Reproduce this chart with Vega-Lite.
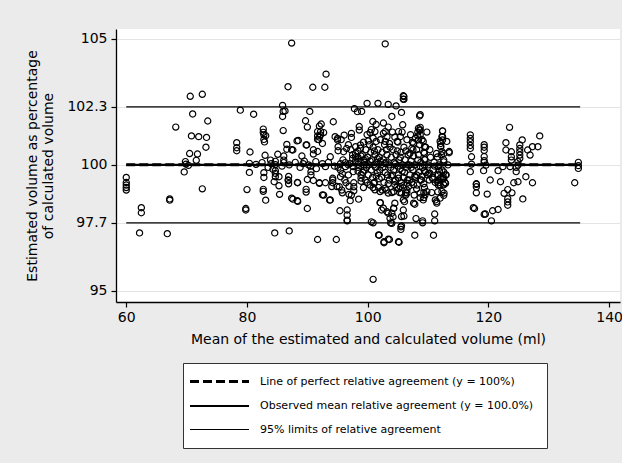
{
  "$schema": "https://vega.github.io/schema/vega-lite/v6.json",
  "width": 504,
  "height": 273,
  "autosize": {"type": "none"},
  "padding": {"left": 116, "top": 29, "right": 2, "bottom": 161},
  "background": "#ebebeb",
  "config": {
    "view": {"fill": "white", "stroke": null},
    "font": "DejaVu Sans",
    "axis": {"labelFont": "DejaVu Sans", "titleFont": "DejaVu Sans", "labelColor": "#000", "titleColor": "#000", "labelFontSize": 14, "titleFontSize": 14, "titleFontWeight": "normal", "tickColor": "#000", "domainColor": "#000", "domainWidth": 1.3, "tickWidth": 1.2, "tickSize": 5}
  },
  "datasets": {
    "lines": [
      {"series": "Line of perfect relative agreement (y = 100%)", "x1": 60, "x2": 135.2, "y": 100},
      {"series": "Observed mean relative agreement (y = 100.0%)", "x1": 60, "x2": 135.2, "y": 100.0},
      {"series": "95% limits of relative agreement", "x1": 60, "x2": 135.2, "y": 102.3},
      {"series": "95% limits of relative agreement", "x1": 60, "x2": 135.2, "y": 97.7}
    ],
    "pts": [
      {"mean":60,"pct":99.5},{"mean":60,"pct":99.3},{"mean":60,"pct":99.2},{"mean":60,"pct":99.1},{"mean":60,"pct":99.0},
      {"mean":62.2,"pct":97.3},{"mean":62.5,"pct":98.3},{"mean":62.5,"pct":98.1},
      {"mean":66.8,"pct":97.27},{"mean":67.2,"pct":98.65},{"mean":67.2,"pct":98.6},{"mean":68.2,"pct":101.5},
      {"mean":69.6,"pct":99.72},{"mean":69.8,"pct":100.13},{"mean":69.9,"pct":100.03},{"mean":70.3,"pct":99.98},{"mean":70.5,"pct":100.45},{"mean":70.6,"pct":102.72},{"mean":71.0,"pct":102.02},{"mean":70.8,"pct":101.15},{"mean":72.0,"pct":101.12},{"mean":71.8,"pct":100.43},{"mean":71.6,"pct":100.18},{"mean":72.6,"pct":102.8},{"mean":72.6,"pct":99.05},{"mean":73.3,"pct":101.09},{"mean":73.2,"pct":100.7},{"mean":73.5,"pct":101.74},
      {"mean":78.3,"pct":100.88},{"mean":78.3,"pct":100.68},{"mean":78.3,"pct":100.56},{"mean":78.9,"pct":102.17},{"mean":81.1,"pct":102.01},{"mean":79.8,"pct":98.27},{"mean":79.8,"pct":98.21},{"mean":80.0,"pct":99.02},{"mean":80.4,"pct":100.06},{"mean":80.4,"pct":99.7},{"mean":80.5,"pct":100.51},
      {"mean":82.7,"pct":101.42},{"mean":82.7,"pct":101.29},{"mean":82.8,"pct":101.19},{"mean":82.8,"pct":101.01},{"mean":82.9,"pct":100.91},{"mean":83.1,"pct":101.16},{"mean":82.5,"pct":100.09},{"mean":83.0,"pct":100.38},{"mean":82.8,"pct":99.69},{"mean":82.8,"pct":99.5},{"mean":82.7,"pct":99.03},{"mean":82.7,"pct":98.95},{"mean":83.1,"pct":98.6},{"mean":83.9,"pct":100.19},{"mean":84.3,"pct":99.82},{"mean":84.5,"pct":99.33},{"mean":84.6,"pct":97.3},{"mean":84.7,"pct":100.14},{"mean":84.7,"pct":100.01},{"mean":84.7,"pct":99.77},{"mean":84.7,"pct":99.66},{"mean":84.7,"pct":99.53},{"mean":85.1,"pct":100.42},{"mean":85.3,"pct":99.53},{"mean":85.3,"pct":99.17},{"mean":85.4,"pct":98.83},{"mean":85.9,"pct":102.36},{"mean":86.0,"pct":102.12},{"mean":85.9,"pct":101.92},{"mean":86.0,"pct":101.36},{"mean":86.1,"pct":100.35},{"mean":86.1,"pct":100.19},{"mean":86.1,"pct":100.09},{"mean":86.3,"pct":102.14},{"mean":86.6,"pct":100.81},{"mean":86.6,"pct":100.62},{"mean":86.8,"pct":99.4},{"mean":87.0,"pct":97.38},{"mean":87.4,"pct":104.83},{"mean":87.6,"pct":98.64},{"mean":87.6,"pct":100.59},{"mean":88.4,"pct":99.29},{"mean":88.4,"pct":98.55},{"mean":88.3,"pct":100.95},{"mean":86.8,"pct":103.1},{"mean":86.9,"pct":99.54},{"mean":86.9,"pct":99.38},{"mean":86.9,"pct":99.25},{"mean":88.35,"pct":99.3},{"mean":87.4,"pct":98.68},{"mean":88.35,"pct":98.58},{"mean":88.5,"pct":100.97},{"mean":87.4,"pct":100.6},
      {"mean":89.1,"pct":100.35},{"mean":89.7,"pct":101.75},{"mean":90.0,"pct":101.5},{"mean":89.8,"pct":100.79},{"mean":90.0,"pct":98.27},{"mean":89.8,"pct":99.03},{"mean":89.8,"pct":98.92},{"mean":90.0,"pct":99.42},{"mean":90.4,"pct":102.12},{"mean":90.9,"pct":103.08},{"mean":91.0,"pct":100.43},{"mean":91.4,"pct":100.13},{"mean":91.7,"pct":97.04},{"mean":91.7,"pct":101.15},{"mean":91.7,"pct":101.32},{"mean":91.7,"pct":101.01},{"mean":92.0,"pct":101.54},{"mean":92.2,"pct":101.32},{"mean":92.2,"pct":101.19},{"mean":92.5,"pct":100.85},{"mean":92.7,"pct":101.28},{"mean":92.0,"pct":99.29},{"mean":92.7,"pct":98.8},{"mean":92.9,"pct":103.08},{"mean":93.1,"pct":103.6},{"mean":93.0,"pct":99.93},{"mean":93.0,"pct":99.29},{"mean":93.7,"pct":98.6},{"mean":93.8,"pct":100.32},{"mean":94.2,"pct":99.4},{"mean":94.2,"pct":99.29},{"mean":94.3,"pct":101.71},{"mean":94.6,"pct":101.12},{"mean":94.8,"pct":97.04},{"mean":95.0,"pct":101.05},{"mean":95.0,"pct":100.99},{"mean":95.1,"pct":100.72},{"mean":95.1,"pct":100.56},{"mean":90.6,"pct":99.73},{"mean":90.6,"pct":99.6},{"mean":91.0,"pct":99.38},{"mean":92.0,"pct":99.27},{"mean":92.5,"pct":98.81},{"mean":93.8,"pct":98.61},{"mean":94.05,"pct":99.14},{"mean":94.9,"pct":99.14},{"mean":94.2,"pct":99.47},{"mean":91.0,"pct":100.6},{"mean":91.7,"pct":100.53},{"mean":89.9,"pct":100.79},{"mean":92.3,"pct":101.62},{"mean":92.0,"pct":101.1},{"mean":91.9,"pct":101.0},{"mean":90.2,"pct":100.0},{"mean":89.3,"pct":100.05},{"mean":91.5,"pct":99.85},
      {"mean":95.3,"pct":99.13},{"mean":95.4,"pct":98.18},{"mean":95.5,"pct":99.79},{"mean":95.5,"pct":99.53},{"mean":95.8,"pct":98.89},{"mean":96.0,"pct":100.52},{"mean":96.3,"pct":100.09},{"mean":96.3,"pct":99.93},{"mean":96.4,"pct":99.29},{"mean":96.6,"pct":98.21},{"mean":96.6,"pct":98.01},{"mean":96.6,"pct":97.81},{"mean":96.6,"pct":97.78},{"mean":96.8,"pct":100.8},{"mean":96.9,"pct":98.83},{"mean":97.1,"pct":98.58},{"mean":97.3,"pct":101.25},{"mean":97.3,"pct":101.09},{"mean":97.5,"pct":100.4},{"mean":97.5,"pct":100.26},{"mean":97.6,"pct":99.93},{"mean":97.6,"pct":99.73},{"mean":97.7,"pct":99.29},{"mean":97.7,"pct":99.13},{"mean":97.7,"pct":98.97},{"mean":97.8,"pct":102.23},{"mean":98.3,"pct":102.11},{"mean":98.5,"pct":98.64},{"mean":98.6,"pct":101.52},{"mean":98.6,"pct":101.38},{"mean":98.8,"pct":100.79},{"mean":98.8,"pct":100.66},{"mean":98.9,"pct":100.35},{"mean":98.4,"pct":100.55},{"mean":98.4,"pct":100.3},{"mean":98.4,"pct":100.15},{"mean":98.4,"pct":100.02},{"mean":98.4,"pct":99.9},{"mean":98.4,"pct":99.75},{"mean":98.0,"pct":100.72},{"mean":98.0,"pct":100.45},{"mean":98.0,"pct":100.32},{"mean":98.0,"pct":100.16},{"mean":98.9,"pct":99.62},{"mean":98.9,"pct":99.48},{"mean":98.9,"pct":99.35},{"mean":99.4,"pct":100.19},{"mean":99.4,"pct":99.99},{"mean":99.4,"pct":99.79},{"mean":95.7,"pct":99.0},{"mean":96.2,"pct":99.4},{"mean":96.8,"pct":99.6},{"mean":97.0,"pct":100.05},{"mean":95.9,"pct":100.2},{"mean":96.5,"pct":100.65},{"mean":97.2,"pct":100.6},{"mean":95.6,"pct":101.0},{"mean":96.1,"pct":101.18},{"mean":95.1,"pct":99.9},{"mean":95.8,"pct":99.65},{"mean":96.9,"pct":99.15},{"mean":97.3,"pct":98.8},
      {"mean":99.9,"pct":102.44},{"mean":101.7,"pct":102.44},{"mean":103.4,"pct":102.4},{"mean":104.7,"pct":102.34},{"mean":105.9,"pct":102.74},{"mean":105.9,"pct":102.61},{"mean":99.0,"pct":102.12},{"mean":105.6,"pct":102.08},{"mean":108.7,"pct":101.99},{"mean":104.0,"pct":101.92},{"mean":100.85,"pct":101.72},{"mean":102.6,"pct":101.66},{"mean":105.8,"pct":101.59},{"mean":100.4,"pct":101.28},{"mean":101.2,"pct":101.32},{"mean":100.9,"pct":101.06},{"mean":101.4,"pct":100.93},{"mean":102.9,"pct":101.32},{"mean":103.2,"pct":101.12},{"mean":102.9,"pct":100.93},{"mean":105.1,"pct":101.32},{"mean":105.4,"pct":101.12},{"mean":104.9,"pct":100.93},{"mean":108.6,"pct":101.39},{"mean":108.7,"pct":101.19},{"mean":108.4,"pct":100.99},{"mean":107.6,"pct":100.86},{"mean":107.3,"pct":100.66},{"mean":107.0,"pct":100.46},{"mean":109.2,"pct":100.93},{"mean":112.4,"pct":101.35},{"mean":112.3,"pct":101.12},{"mean":112.0,"pct":100.93},{"mean":112.1,"pct":100.73},{"mean":112.3,"pct":100.53},{"mean":113.1,"pct":100.93},{"mean":113.5,"pct":100.53},{"mean":111.55,"pct":100.31},
      {"mean":100.9,"pct":95.46},{"mean":100.6,"pct":97.74},{"mean":100.9,"pct":97.7},{"mean":101.9,"pct":97.21},{"mean":102.1,"pct":98.5},{"mean":102.3,"pct":98.21},{"mean":102.7,"pct":96.91},{"mean":102.9,"pct":104.8},{"mean":103.6,"pct":97.04},{"mean":103.4,"pct":98.08},{"mean":103.8,"pct":97.7},{"mean":104.2,"pct":97.94},{"mean":104.3,"pct":98.27},{"mean":105.2,"pct":96.93},{"mean":105.5,"pct":97.54},{"mean":105.5,"pct":97.44},{"mean":106.0,"pct":102.71},{"mean":106.0,"pct":102.6},{"mean":106.0,"pct":97.97},{"mean":106.1,"pct":98.54},{"mean":106.3,"pct":98.8},{"mean":106.5,"pct":99.0},{"mean":107.8,"pct":98.44},{"mean":107.8,"pct":97.21},{"mean":108.0,"pct":97.87},{"mean":108.6,"pct":101.94},{"mean":109.1,"pct":97.7},{"mean":110.9,"pct":97.21},{"mean":111.1,"pct":98.05},{"mean":111.1,"pct":97.78},{"mean":111.4,"pct":98.54},{"mean":111.6,"pct":98.93},{"mean":101.8,"pct":97.22},{"mean":103.4,"pct":97.05},{"mean":102.7,"pct":96.95},{"mean":105.1,"pct":96.95},{"mean":105.6,"pct":97.58},{"mean":109.1,"pct":97.78},
      {"mean":102.05,"pct":98.5},{"mean":102.6,"pct":98.28},{"mean":103.2,"pct":98.14},{"mean":104.0,"pct":98.08},{"mean":104.3,"pct":98.28},{"mean":104.0,"pct":97.68},{"mean":103.7,"pct":97.88},{"mean":104.5,"pct":98.48},{"mean":105.6,"pct":97.95},{"mean":105.9,"pct":98.21},{"mean":105.9,"pct":98.61},{"mean":106.5,"pct":98.88},{"mean":107.6,"pct":98.48},{"mean":108.7,"pct":98.88},{"mean":109.2,"pct":98.61},{"mean":109.5,"pct":98.81},{"mean":109.8,"pct":98.94},{"mean":111.2,"pct":98.61},{"mean":111.45,"pct":98.48},{"mean":112.0,"pct":98.68},{"mean":112.3,"pct":98.94},{"mean":112.0,"pct":99.47},{"mean":112.5,"pct":99.54},{"mean":112.65,"pct":98.88},{"mean":110.3,"pct":99.67},{"mean":110.8,"pct":99.43},{"mean":108.7,"pct":99.4},{"mean":107.6,"pct":99.21},{"mean":108.1,"pct":99.6},{"mean":101.0,"pct":99.27},{"mean":101.2,"pct":99.01},{"mean":102.05,"pct":98.94},{"mean":102.9,"pct":99.07},{"mean":103.4,"pct":98.88},{"mean":104.3,"pct":98.94},{"mean":104.5,"pct":99.21},{"mean":105.1,"pct":99.47},{"mean":105.4,"pct":99.14},{"mean":105.6,"pct":98.88},{"mean":106.5,"pct":99.27},
      {"mean":99.1,"pct":100.4},{"mean":99.2,"pct":99.7},{"mean":99.3,"pct":100.9},{"mean":99.5,"pct":100.1},{"mean":99.6,"pct":99.4},{"mean":99.7,"pct":100.6},{"mean":99.8,"pct":99.9},{"mean":99.9,"pct":101.2},{"mean":100.0,"pct":100.3},{"mean":100.1,"pct":99.6},{"mean":100.2,"pct":100.0},{"mean":100.3,"pct":100.8},{"mean":100.4,"pct":99.2},{"mean":100.5,"pct":100.5},{"mean":100.6,"pct":99.8},{"mean":100.7,"pct":100.2},{"mean":100.8,"pct":99.5},{"mean":100.9,"pct":100.7},{"mean":101.0,"pct":100.0},{"mean":101.1,"pct":99.3},{"mean":101.2,"pct":100.4},{"mean":101.3,"pct":99.9},{"mean":101.4,"pct":101.6},{"mean":101.5,"pct":100.1},{"mean":101.6,"pct":99.7},{"mean":101.7,"pct":100.6},{"mean":101.8,"pct":99.1},{"mean":101.9,"pct":100.3},{"mean":102.0,"pct":99.8},{"mean":102.1,"pct":101.0},{"mean":102.2,"pct":100.0},{"mean":102.3,"pct":99.5},{"mean":102.4,"pct":100.5},{"mean":102.5,"pct":99.9},{"mean":102.6,"pct":100.2},{"mean":102.7,"pct":99.3},{"mean":102.8,"pct":100.8},{"mean":102.9,"pct":99.7},{"mean":103.0,"pct":100.1},{"mean":103.1,"pct":99.0},{"mean":103.2,"pct":100.4},{"mean":103.3,"pct":99.6},{"mean":103.4,"pct":101.5},{"mean":103.5,"pct":100.0},{"mean":103.6,"pct":99.4},{"mean":103.7,"pct":100.7},{"mean":103.8,"pct":99.9},{"mean":103.9,"pct":100.3},{"mean":104.0,"pct":98.9},{"mean":104.1,"pct":99.6},{"mean":104.2,"pct":100.6},{"mean":104.3,"pct":99.8},{"mean":104.4,"pct":100.1},{"mean":104.5,"pct":101.1},{"mean":104.6,"pct":99.4},{"mean":104.7,"pct":100.4},{"mean":104.8,"pct":99.1},{"mean":104.9,"pct":99.95},{"mean":105.0,"pct":100.9},{"mean":105.1,"pct":99.6},{"mean":105.2,"pct":100.2},{"mean":105.3,"pct":98.9},{"mean":105.4,"pct":99.85},{"mean":105.5,"pct":100.5},{"mean":105.6,"pct":99.3},{"mean":105.7,"pct":101.3},{"mean":105.8,"pct":100.0},{"mean":105.9,"pct":99.5},{"mean":106.0,"pct":100.7},{"mean":106.1,"pct":99.7},{"mean":106.2,"pct":100.2},{"mean":106.3,"pct":98.9},{"mean":106.4,"pct":99.9},{"mean":106.5,"pct":101.0},{"mean":106.6,"pct":99.4},{"mean":106.7,"pct":100.4},{"mean":106.8,"pct":99.15},{"mean":106.9,"pct":100.0},{"mean":107.0,"pct":99.6},{"mean":107.1,"pct":101.2},{"mean":107.2,"pct":100.15},{"mean":107.3,"pct":99.3},{"mean":107.4,"pct":100.9},{"mean":107.5,"pct":99.8},{"mean":107.6,"pct":100.35},{"mean":107.7,"pct":98.8},{"mean":107.8,"pct":100.0},{"mean":107.9,"pct":101.05},{"mean":108.0,"pct":99.5},{"mean":108.1,"pct":100.6},{"mean":108.2,"pct":99.2},{"mean":108.3,"pct":100.2},{"mean":108.4,"pct":101.45},{"mean":108.5,"pct":99.7},{"mean":108.6,"pct":100.8},{"mean":108.7,"pct":98.7},{"mean":108.8,"pct":100.1},{"mean":108.9,"pct":99.4},{"mean":109.0,"pct":101.0},{"mean":109.1,"pct":99.9},{"mean":109.3,"pct":100.5},{"mean":109.4,"pct":99.1},{"mean":109.5,"pct":100.2},{"mean":109.6,"pct":99.7},{"mean":109.8,"pct":101.3},{"mean":110.0,"pct":100.0},{"mean":110.2,"pct":99.4},{"mean":110.4,"pct":100.3},{"mean":110.6,"pct":98.9},{"mean":110.8,"pct":99.8},{"mean":111.0,"pct":100.1},{"mean":111.2,"pct":99.3},{"mean":111.4,"pct":100.45},{"mean":111.6,"pct":99.6},{"mean":111.8,"pct":100.0},{"mean":112.0,"pct":99.2},{"mean":112.3,"pct":99.8},{"mean":112.6,"pct":100.2},{"mean":112.8,"pct":99.3},{"mean":113.0,"pct":99.6},{"mean":113.3,"pct":100.0},
      {"mean":99.3,"pct":99.1},{"mean":99.6,"pct":100.25},{"mean":99.9,"pct":99.3},{"mean":100.1,"pct":100.95},{"mean":100.4,"pct":100.15},{"mean":100.6,"pct":101.4},{"mean":100.9,"pct":99.1},{"mean":101.1,"pct":100.55},{"mean":101.4,"pct":99.55},{"mean":101.6,"pct":100.25},{"mean":101.9,"pct":99.45},{"mean":102.1,"pct":100.15},{"mean":102.4,"pct":99.0},{"mean":102.6,"pct":101.25},{"mean":102.9,"pct":100.05},{"mean":103.1,"pct":100.6},{"mean":103.4,"pct":99.25},{"mean":103.6,"pct":100.85},{"mean":103.9,"pct":99.55},{"mean":104.1,"pct":101.3},{"mean":104.4,"pct":99.35},{"mean":104.6,"pct":100.05},{"mean":104.9,"pct":100.55},{"mean":105.1,"pct":99.05},{"mean":105.4,"pct":100.3},{"mean":105.7,"pct":99.75},{"mean":106.0,"pct":99.2},{"mean":106.3,"pct":100.55},{"mean":106.6,"pct":100.0},{"mean":106.9,"pct":99.4},{"mean":107.2,"pct":99.9},{"mean":107.5,"pct":100.6},{"mean":107.8,"pct":99.55},{"mean":108.1,"pct":99.05},{"mean":108.4,"pct":100.4},{"mean":108.7,"pct":99.95},{"mean":109.0,"pct":99.55},{"mean":109.3,"pct":99.25},{"mean":109.6,"pct":100.7},{"mean":109.9,"pct":99.6},{"mean":110.3,"pct":100.6},{"mean":110.7,"pct":99.5},{"mean":111.1,"pct":99.95},{"mean":111.5,"pct":99.35},{"mean":111.9,"pct":99.75},{"mean":112.2,"pct":100.4},{"mean":112.5,"pct":99.45},{"mean":112.9,"pct":99.6},
      {"mean":112.4,"pct":101.34},{"mean":112.4,"pct":101.12},{"mean":112.4,"pct":100.99},{"mean":112.6,"pct":100.45},{"mean":112.6,"pct":100.12},{"mean":112.6,"pct":99.72},{"mean":112.6,"pct":99.45},{"mean":112.6,"pct":99.21},{"mean":112.6,"pct":98.79},{"mean":112.9,"pct":99.27},{"mean":113.5,"pct":100.48},{"mean":111.7,"pct":99.93},{"mean":111.7,"pct":99.6},{"mean":111.7,"pct":99.4},{"mean":111.7,"pct":99.29},{"mean":111.7,"pct":99.2},{"mean":112.1,"pct":100.85},{"mean":112.1,"pct":100.72},
      {"mean":108.3,"pct":101.3},{"mean":108.3,"pct":101.15},{"mean":108.7,"pct":101.49},{"mean":108.7,"pct":101.38},{"mean":109.3,"pct":98.9},{"mean":109.3,"pct":98.7},{"mean":109.4,"pct":100.72},{"mean":109.4,"pct":100.46},{"mean":109.4,"pct":100.22},{"mean":109.4,"pct":99.99},{"mean":109.4,"pct":99.77},{"mean":110.1,"pct":99.66},
      {"mean":117.0,"pct":101.19},{"mean":117.0,"pct":101.05},{"mean":117.0,"pct":100.92},{"mean":117.0,"pct":100.77},{"mean":117.0,"pct":100.65},{"mean":117.2,"pct":100.32},{"mean":117.2,"pct":100.03},{"mean":117.0,"pct":99.73},{"mean":117.7,"pct":98.27},{"mean":118.0,"pct":99.23},{"mean":118.0,"pct":99.13},{"mean":118.0,"pct":98.89},{"mean":119.3,"pct":100.8},{"mean":119.3,"pct":100.7},{"mean":119.3,"pct":100.57},{"mean":119.3,"pct":100.33},{"mean":119.3,"pct":100.17},{"mean":119.3,"pct":100.1},{"mean":119.6,"pct":99.99},{"mean":119.2,"pct":99.77},{"mean":119.5,"pct":98.05},{"mean":119.8,"pct":98.84},{"mean":120.3,"pct":99.4},{"mean":120.5,"pct":97.78},{"mean":120.7,"pct":98.18},{"mean":121.6,"pct":99.77},{"mean":121.6,"pct":98.23},{"mean":122.0,"pct":99.33},{"mean":122.4,"pct":99.93},{"mean":122.6,"pct":98.87},{"mean":122.9,"pct":100.88},{"mean":122.9,"pct":100.59},{"mean":123.2,"pct":99.02},{"mean":123.2,"pct":98.66},{"mean":123.2,"pct":98.53},{"mean":123.2,"pct":98.4},{"mean":123.5,"pct":101.49},{"mean":123.6,"pct":99.93},{"mean":123.8,"pct":100.52},{"mean":123.8,"pct":100.32},{"mean":123.8,"pct":100.19},{"mean":123.9,"pct":98.89},{"mean":124.2,"pct":99.29},{"mean":124.6,"pct":99.73},{"mean":124.6,"pct":99.9},{"mean":124.9,"pct":99.33},{"mean":125.2,"pct":100.79},{"mean":125.2,"pct":100.65},{"mean":125.2,"pct":100.52},{"mean":125.2,"pct":100.39},{"mean":125.2,"pct":100.26},{"mean":125.6,"pct":100.99},{"mean":125.7,"pct":98.65},{"mean":126.2,"pct":99.53},{"mean":126.5,"pct":100.59},{"mean":126.9,"pct":100.39},{"mean":127.3,"pct":99.29},{"mean":127.3,"pct":100.72},{"mean":128.2,"pct":100.72},{"mean":128.5,"pct":101.15},{"mean":124.9,"pct":99.99},{"mean":124.9,"pct":100.13},{"mean":118.0,"pct":99.25},{"mean":117.5,"pct":98.3},{"mean":119.3,"pct":98.04},
      {"mean":134.3,"pct":99.29},{"mean":134.9,"pct":100.1},{"mean":134.9,"pct":99.97},{"mean":134.9,"pct":99.86},
      {"mean":81.5,"pct":100.02},{"mean":83.5,"pct":99.9},{"mean":84.0,"pct":100.05},{"mean":85.8,"pct":99.95},{"mean":87.0,"pct":100.0},{"mean":88.0,"pct":100.1},{"mean":88.8,"pct":99.9},{"mean":89.5,"pct":100.15},{"mean":90.5,"pct":99.95},{"mean":92.5,"pct":100.05},{"mean":93.5,"pct":100.1},{"mean":94.5,"pct":99.95},{"mean":95.5,"pct":100.05},{"mean":96.8,"pct":100.0}
    ]
  },
  "layer": [
    {
      "data": {"name": "pts"},
      "mark": {"type": "point", "shape": "circle", "filled": false, "stroke": "#000", "strokeWidth": 1.2, "size": 38, "opacity": 1},
      "encoding": {
        "x": {"field": "mean", "type": "quantitative", "scale": {"domain": [58.3, 141.8], "nice": false, "zero": false},
              "axis": {"values": [60, 80, 100, 120, 140], "format": "d", "grid": false, "title": "Mean of the estimated and calculated volume (ml)", "labelPadding": 3, "titlePadding": 8}},
        "y": {"field": "pct", "type": "quantitative", "scale": {"domain": [94.56, 105.39], "nice": false, "zero": false},
              "axis": {"values": [95, 97.7, 100, 102.3, 105], "format": ".4~g", "grid": true, "gridColor": "#e4e4e4", "gridWidth": 1, "title": ["Estimated volume as percentage", "of calculated volume"], "titleLineHeight": 16, "labelPadding": 4, "titlePadding": 11}}
      }
    },
    {
      "data": {"name": "lines"},
      "mark": {"type": "rule", "color": "#000"},
      "encoding": {
        "x": {"field": "x1", "type": "quantitative"},
        "x2": {"field": "x2"},
        "y": {"field": "y", "type": "quantitative"},
        "strokeDash": {"field": "series", "type": "nominal",
          "scale": {"domain": ["Line of perfect relative agreement (y = 100%)", "Observed mean relative agreement (y = 100.0%)", "95% limits of relative agreement"], "range": [[9, 4], [1, 0], [1, 0]]},
          "legend": {"orient": "none", "legendX": 67, "legendY": 334, "title": null, "symbolType": "M-5.75,0H23.75", "symbolSize": 16, "symbolStrokeColor": "#000", "labelFont": "DejaVu Sans", "labelFontSize": 11, "labelColor": "#000", "labelOffset": 53, "labelLimit": 400, "fillColor": "white", "strokeColor": "#333", "padding": 13, "rowPadding": 11.5}},
        "strokeWidth": {"field": "series", "type": "ordinal",
          "scale": {"type": "point", "padding": 0, "domain": ["Line of perfect relative agreement (y = 100%)", "Observed mean relative agreement (y = 100.0%)", "95% limits of relative agreement"], "range": [3, 1.1]}}
      }
    }
  ]
}
